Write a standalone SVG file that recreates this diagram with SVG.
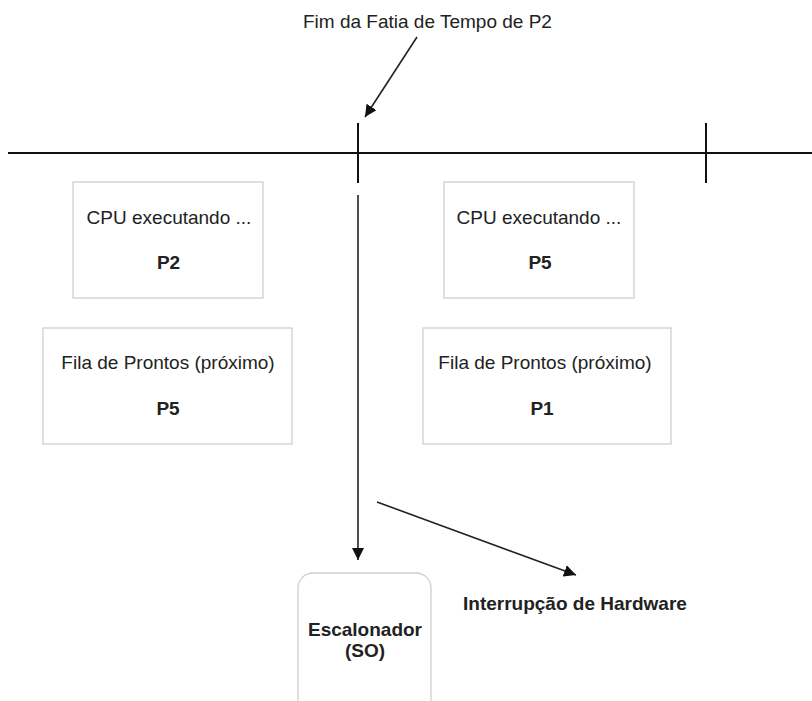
<svg xmlns="http://www.w3.org/2000/svg" width="812" height="701" viewBox="0 0 812 701">
  <style>
    text { font-family: "Liberation Sans", Arial, sans-serif; font-size: 19px; fill: #222; }
    .b { font-weight: bold; }
    .box { fill: #fff; stroke: #cfcfcf; stroke-width: 1.3; }
    .axis { stroke: #111; stroke-width: 2; fill: none; }
    .arrow { stroke: #222; stroke-width: 1.6; fill: none; }
  </style>
  <defs>
    <marker id="head" viewBox="0 0 10 10" refX="10" refY="5" markerWidth="12" markerHeight="12" markerUnits="userSpaceOnUse" orient="auto">
      <path d="M0,0 L10,5 L0,10 z" fill="#111"/>
    </marker>
  </defs>
  <rect width="812" height="701" fill="#fff"/>

  <!-- time line with slice boundaries -->
  <g id="timeline">
    <line class="axis" x1="8" y1="153" x2="812" y2="153"/>
    <line class="axis" x1="358" y1="123" x2="358" y2="183"/>
    <line class="axis" x1="706" y1="123" x2="706" y2="183"/>
  </g>

  <g id="label-fim">
    <text x="303" y="28">Fim da Fatia de Tempo de P2</text>
  </g>

  <g id="cpu-p2">
    <rect class="box" x="73" y="182" width="190" height="116"/>
    <text x="169" y="224" text-anchor="middle">CPU executando ...</text>
    <text class="b" x="168.5" y="269" text-anchor="middle">P2</text>
  </g>

  <g id="fila-p5">
    <rect class="box" x="43" y="328" width="249" height="116"/>
    <text x="168" y="369" text-anchor="middle">Fila de Prontos (próximo)</text>
    <text class="b" x="168" y="415" text-anchor="middle">P5</text>
  </g>

  <g id="cpu-p5">
    <rect class="box" x="444" y="182" width="190" height="116"/>
    <text x="539" y="224" text-anchor="middle">CPU executando ...</text>
    <text class="b" x="540" y="269" text-anchor="middle">P5</text>
  </g>

  <g id="fila-p1">
    <rect class="box" x="423" y="328" width="248" height="116"/>
    <text x="545" y="369" text-anchor="middle">Fila de Prontos (próximo)</text>
    <text class="b" x="542" y="415" text-anchor="middle">P1</text>
  </g>

  <g id="escalonador">
    <rect class="box" x="298" y="573" width="133" height="160" rx="15" ry="15"/>
    <text class="b" x="365" y="636" text-anchor="middle">Escalonador</text>
    <text class="b" x="365" y="657" text-anchor="middle">(SO)</text>
  </g>

  <g id="label-interrupcao">
    <text class="b" x="463" y="610">Interrupção de Hardware</text>
  </g>

  <!-- connectors -->
  <g id="connectors">
    <line class="arrow" x1="417" y1="37" x2="365" y2="117" marker-end="url(#head)"/>
    <line class="arrow" x1="358" y1="195" x2="358" y2="560" marker-end="url(#head)"/>
    <line class="arrow" x1="377" y1="502" x2="576" y2="575" marker-end="url(#head)"/>
  </g>
</svg>
